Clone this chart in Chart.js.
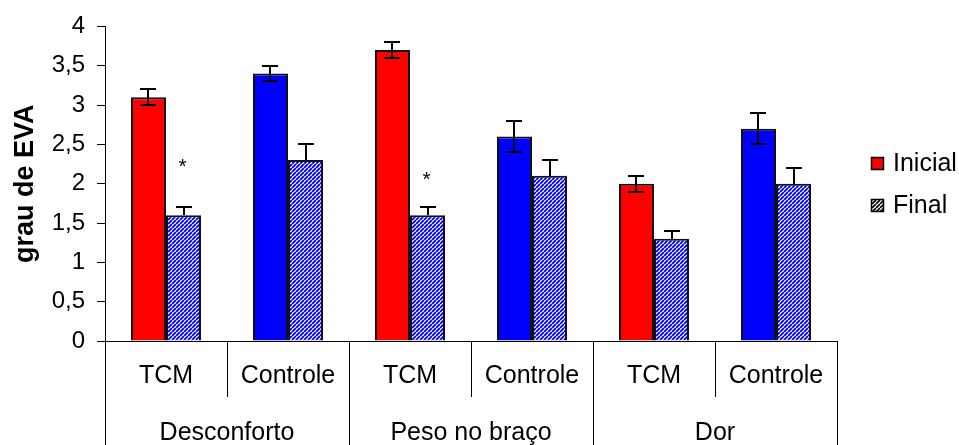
<!DOCTYPE html>
<html>
<head>
<meta charset="utf-8">
<script src="https://cdn.jsdelivr.net/npm/chart.js@4.4.1/dist/chart.umd.min.js"></script>
<style>
  html, body { margin: 0; padding: 0; background: #fff; overflow: hidden; }
  #wrap { width: 959px; height: 445px; }
</style>
</head>
<body>
<div id="wrap"><canvas id="c" width="959" height="445"></canvas></div>
<script>
// Grupos de sintomas e braços do estudo
const groups = ['Desconforto', 'Peso no braço', 'Dor'];
const arms = ['TCM', 'Controle', 'TCM', 'Controle', 'TCM', 'Controle'];

// Médias do grau de EVA
const inicial = [3.1, 3.4, 3.7, 2.6, 2.0, 2.7];
const final = [1.6, 2.3, 1.6, 2.1, 1.3, 2.0];

// Erro-padrão de cada média
const inicialErr = [0.1, 0.1, 0.1, 0.2, 0.1, 0.2];
const finalErr = [0.1, 0.2, 0.1, 0.2, 0.1, 0.2];

// Nível (em EVA) do asterisco de diferença significativa
const signif = [2.29, null, 2.12, null, null, null];

const yTicks = [0, 0.5, 1, 1.5, 2, 2.5, 3, 3.5, 4];

const armColors = { 'TCM': '#ff0000', 'Controle': '#0000ff' };

const FONT = '"Liberation Sans", Arial, sans-serif';
Chart.defaults.font.family = FONT;
Chart.defaults.color = '#000';

// Textura de listras diagonais
function hatch(color, width) {
  const s = 4;
  const c = document.createElement('canvas');
  c.width = s; c.height = s;
  const g = c.getContext('2d');
  g.fillStyle = '#fff';
  g.fillRect(0, 0, s, s);
  g.strokeStyle = color;
  g.lineWidth = width;
  g.beginPath();
  for (const k of [-s, 0, s]) {
    g.moveTo(k, s);
    g.lineTo(k + s, 0);
  }
  g.stroke();
  return g.createPattern(c, 'repeat');
}
const blueHatch = hatch('#0000ff', 1.9);
const blackHatch = hatch('#000', 1.7);

const extras = {
  id: 'extras',
  afterDatasetsDraw(chart) {
    const { ctx, scales: { y } } = chart;
    ctx.save();
    ctx.strokeStyle = '#000';
    ctx.lineWidth = 2;
    const sets = [[0, inicial, inicialErr, true], [1, final, finalErr, false]];
    sets.forEach(([di, vals, errs, both]) => {
      chart.getDatasetMeta(di).data.forEach((bar, i) => {
        const cx = Math.round(bar.x);
        const top = Math.round(y.getPixelForValue(vals[i] + errs[i]));
        const bot = Math.round(y.getPixelForValue(both ? vals[i] - errs[i] : vals[i]));
        ctx.beginPath();
        ctx.moveTo(cx, top); ctx.lineTo(cx, bot);
        ctx.moveTo(cx - 8, top); ctx.lineTo(cx + 8, top);
        if (both) { ctx.moveTo(cx - 8, bot); ctx.lineTo(cx + 8, bot); }
        ctx.stroke();
      });
    });
    // asteriscos
    ctx.fillStyle = '#000';
    ctx.font = '21px ' + FONT;
    ctx.textAlign = 'center';
    ctx.textBaseline = 'alphabetic';
    const fm = chart.getDatasetMeta(1).data;
    signif.forEach((lv, i) => {
      if (lv == null) return;
      ctx.fillText('*', fm[i].x - 1, y.getPixelForValue(lv) + 12);
    });
    ctx.restore();
  },
  afterDraw(chart) {
    const { ctx, chartArea, scales: { x } } = chart;
    const base = x.top;
    ctx.save();
    ctx.strokeStyle = '#000';
    ctx.lineWidth = 1;
    // divisórias das categorias
    for (let i = 0; i <= arms.length; i++) {
      let px;
      if (i === 0) px = x.left;
      else if (i === arms.length) px = x.right;
      else px = (x.getPixelForValue(i - 1) + x.getPixelForValue(i)) / 2;
      px = Math.round(px) + 0.5;
      const end = (i % 2 === 0) ? chart.height : base + 56;
      ctx.beginPath();
      ctx.moveTo(px, base);
      ctx.lineTo(px, end);
      ctx.stroke();
    }
    // rótulos dos grupos
    ctx.fillStyle = '#000';
    ctx.font = '25px ' + FONT;
    ctx.textAlign = 'center';
    ctx.textBaseline = 'alphabetic';
    groups.forEach((g, k) => {
      const cx = (x.getPixelForValue(2 * k) + x.getPixelForValue(2 * k + 1)) / 2;
      ctx.fillText(g, cx, base + 99);
    });
    // legenda
    const lx = chartArea.right + 34;
    const items = [
      { label: chart.data.datasets[0].label, fill: '#ff0000', cy: 163 },
      { label: chart.data.datasets[1].label, fill: blackHatch, cy: 205 }
    ];
    ctx.font = '25px ' + FONT;
    ctx.textAlign = 'left';
    ctx.textBaseline = 'middle';
    items.forEach(it => {
      ctx.fillStyle = it.fill;
      ctx.fillRect(lx, it.cy - 6, 13, 13);
      ctx.strokeStyle = '#000';
      ctx.lineWidth = 1.5;
      ctx.strokeRect(lx + 0.5, it.cy - 5.5, 12, 12);
      ctx.fillStyle = '#000';
      ctx.fillText(it.label, lx + 22, it.cy + 1);
    });
    ctx.restore();
  }
};

new Chart(document.getElementById('c'), {
  type: 'bar',
  data: {
    labels: arms,
    datasets: [
      {
        label: 'Inicial',
        data: inicial,
        backgroundColor: arms.map(a => armColors[a]),
        borderColor: '#111',
        borderWidth: 2,
        barPercentage: 1,
        categoryPercentage: 0.574
      },
      {
        label: 'Final',
        data: final,
        backgroundColor: blueHatch,
        borderColor: '#111',
        borderWidth: 2,
        barPercentage: 1,
        categoryPercentage: 0.574
      }
    ]
  },
  options: {
    responsive: false,
    animation: false,
    devicePixelRatio: 1,
    layout: { padding: { top: 26, right: 122, bottom: 0, left: 0 } },
    plugins: {
      legend: { display: false },
      tooltip: { enabled: false }
    },
    scales: {
      x: {
        grid: { display: false, drawTicks: false },
        border: { display: true, color: '#000', width: 1 },
        ticks: { font: { size: 25 }, padding: 20, color: '#000', maxRotation: 0, autoSkip: false },
        afterFit: s => { s.height = 104; }
      },
      y: {
        min: 0,
        max: 4,
        afterBuildTicks: s => { s.ticks = yTicks.map(v => ({ value: v })); },
        grid: { drawOnChartArea: false, drawTicks: true, tickLength: 8, color: '#000' },
        border: { display: true, color: '#000', width: 1 },
        ticks: {
          font: { size: 24 },
          padding: 12,
          color: '#000',
          callback: v => String(v).replace('.', ',')
        },
        title: {
          display: true,
          text: 'grau de EVA',
          font: { size: 27, weight: 'bold' },
          color: '#000',
          padding: { top: 9, bottom: 0 }
        },
        afterFit: s => { s.width = 105; }
      }
    }
  },
  plugins: [extras]
});
</script>
</body>
</html>
